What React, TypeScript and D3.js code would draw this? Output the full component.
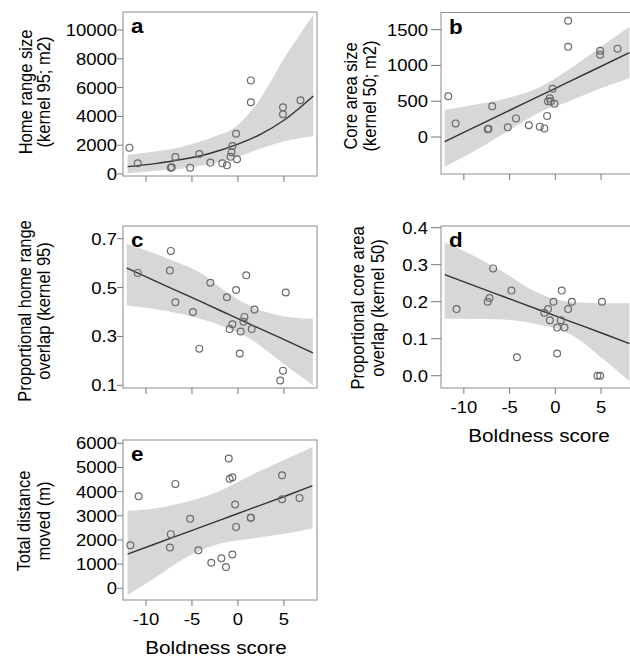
import * as d3 from "d3";
import React from "react";

// shared x axis
const xTicks = [-10, -5, 0, 5];
const xDomain: [number, number] = [-12.5, 8.6];

// a: home range size
const boldA = [-11.8, -10.9, -7.3, -7.2, -6.8, -5.2, -4.2, -3.0, -1.7, -1.2, -0.8, -0.7, -0.6, -0.2, -0.1, 1.4, 1.4, 4.9, 4.9, 6.8];
const homeRange = [1830, 740, 430, 470, 1180, 440, 1390, 790, 740, 600, 1200, 1510, 1940, 2800, 1020, 6500, 4980, 4630, 4150, 5120];
const fitXA = [-12, -9, -6, -3, 0, 2.5, 5, 8.2];
const fitA = [510, 720, 1020, 1440, 2070, 2770, 3730, 5420];
const loA = [60, 220, 380, 700, 1200, 1780, 2260, 2640];
const hiA = [1320, 1560, 1900, 2500, 3400, 5300, 8000, 11040];
const yTicksA = [0, 2000, 4000, 6000, 8000, 10000];

// b: core area size
const boldB = [-11.7, -10.9, -7.4, -7.3, -6.9, -5.2, -4.3, -2.9, -1.7, -1.2, -0.9, -0.8, -0.6, -0.5, -0.3, -0.1, 1.4, 1.4, 4.9, 4.9, 6.8];
const coreArea = [570, 190, 110, 115, 430, 135, 260, 165, 145, 120, 295, 500, 540, 500, 675, 465, 1625, 1260, 1205, 1150, 1235];
const fitXB = [-12.1, -9, -5.3, -1.6, 1.4, 4, 8.1];
const fitB = [-65, 126, 354, 581, 766, 926, 1178];
const loB = [-414, -205, 74, 354, 493, 633, 820];
const hiB = [377, 447, 540, 703, 936, 1169, 1540];
const yTicksB = [0, 500, 1000, 1500];

// c: proportional home range overlap
const boldC = [-10.9, -7.3, -7.4, -6.8, -4.9, -4.2, -3.0, -1.2, -0.9, -0.6, -0.2, 0.2, 0.3, 0.6, 0.7, 0.9, 1.5, 1.8, 4.6, 4.9, 5.2];
const overlapHR = [0.56, 0.65, 0.57, 0.44, 0.40, 0.25, 0.52, 0.46, 0.33, 0.35, 0.49, 0.23, 0.32, 0.36, 0.38, 0.55, 0.33, 0.41, 0.12, 0.16, 0.48];
const fitXC = [-12.1, -7.6, -3.9, -1.0, 1.6, 4.5, 8.15];
const fitC = [0.58, 0.503, 0.44, 0.39, 0.345, 0.296, 0.233];
const loC = [0.427, 0.403, 0.37, 0.331, 0.284, 0.202, 0.1];
const hiC = [0.679, 0.618, 0.556, 0.475, 0.42, 0.386, 0.372];
const yTicksC = [0.1, 0.3, 0.5, 0.7];

// d: proportional core area overlap
const boldD = [-10.8, -7.4, -7.2, -6.8, -4.8, -4.2, -1.2, -0.8, -0.6, -0.2, 0.2, 0.2, 0.6, 0.7, 1.0, 1.4, 1.8, 4.6, 4.9, 5.1];
const overlapCore = [0.18, 0.2, 0.21, 0.29, 0.23, 0.05, 0.17, 0.18, 0.15, 0.2, 0.06, 0.13, 0.15, 0.23, 0.13, 0.18, 0.2, 0.0, 0.0, 0.2];
const fitXD = [-12.1, -9.4, -5.7, -2.1, 1.6, 5.2, 8.1];
const fitD = [0.273, 0.248, 0.214, 0.181, 0.147, 0.114, 0.087];
const loD = [0.154, 0.154, 0.152, 0.14, 0.113, 0.046, -0.015];
const hiD = [0.361, 0.33, 0.28, 0.226, 0.199, 0.196, 0.196];
const yTicksD = [0, 0.1, 0.2, 0.3, 0.4];

// e: total distance moved
const boldE = [-11.7, -10.8, -7.3, -7.4, -6.8, -5.2, -4.3, -2.9, -1.8, -1.3, -1.0, -0.9, -0.6, -0.6, -0.3, -0.2, 1.4, 1.4, 4.8, 4.8, 6.7];
const distance = [1780, 3810, 2240, 1690, 4320, 2880, 1570, 1060, 1240, 880, 5370, 4530, 4590, 1400, 3470, 2540, 2920, 2920, 4680, 3680, 3740];
const fitXE = [-12, -9.1, -5.5, -1.8, 1.8, 5.4, 8.1];
const fitE = [1417, 1822, 2325, 2842, 3345, 3849, 4240];
const loE = [-277, 413, 1306, 1860, 2066, 2273, 2479];
const hiE = [3207, 3305, 3580, 4062, 4750, 5372, 5850];
const yTicksE = [0, 1000, 2000, 3000, 4000, 5000, 6000];

const SX = 1.12; // text is drawn a bit wide in the original
const FONT = "'Liberation Sans', Arial, sans-serif";

function Panel(props: any) {
  const { x0, x1, y0, y1, yDomain, yTicks, fmt, xs, ys, fx, fy, lo, hi, letter, title, titleX, titleY, right, xLabels } = props;
  const x = d3.scaleLinear().domain(xDomain).range([x0, x1]);
  const y = d3.scaleLinear().domain(yDomain).range([y1, y0]);
  const idx = d3.range(fx.length);
  const band = d3.area<number>().x((i) => x(fx[i])).y0((i) => y(lo[i])).y1((i) => y(hi[i])).curve(d3.curveMonotoneX)(idx);
  const line = d3.line<number>().x((i) => x(fx[i])).y((i) => y(fy[i])).curve(d3.curveMonotoneX)(idx);
  const tickLen = right ? 10 : 6;
  const labEnd = x0 - tickLen - (right ? 3 : 0);

  return (
    <g>
      <path d={band || ""} fill="#d7d7d7" />
      <path d={line || ""} fill="none" stroke="#333" strokeWidth={1.4} />
      {xs.map((v: number, i: number) => (
        <circle key={i} cx={x(v)} cy={y(ys[i])} r={3.4} fill="none" stroke="#6a6a6a" strokeWidth={1.2} />
      ))}
      <rect x={x0} y={y0} width={x1 - x0} height={y1 - y0} fill="none" stroke="#8c8c8c" strokeWidth={1} />
      {xTicks.map((t) => (
        <line key={t} x1={x(t)} x2={x(t)} y1={y1} y2={y1 + 6} stroke="#777" />
      ))}
      {yTicks.map((t: number) => (
        <g key={t}>
          <line x1={x0 - tickLen} x2={x0} y1={y(t)} y2={y(t)} stroke="#777" />
          <text transform={`translate(${labEnd},${y(t) + 6}) scale(${SX},1)`} textAnchor="end" fontSize={16.5} fill="#000">
            {fmt(t)}
          </text>
        </g>
      ))}
      {xLabels &&
        xTicks.map((t) => (
          <text key={t} transform={`translate(${x(t)},${y1 + 25}) scale(${SX},1)`} textAnchor="middle" fontSize={16.5} fill="#000">
            {t}
          </text>
        ))}
      {xLabels && (
        <text transform={`translate(${xLabels},${y1 + 54}) scale(${SX},1)`} textAnchor="middle" fontSize={18.5} fill="#000">
          Boldness score
        </text>
      )}
      <text transform={`translate(${x0 + 8},${y0 + 21}) scale(${SX},1)`} fontSize={20} fontWeight="bold" fill="#000">
        {letter}
      </text>
      {title.map((s: string, i: number) => (
        <text key={i} transform={`translate(${titleX[i]},${titleY}) scale(${SX},1) rotate(-90)`} textAnchor="middle" fontSize={16.5} fill="#000">
          {s}
        </text>
      ))}
    </g>
  );
}

export default function App() {
  const f0 = d3.format("d");
  const f1 = d3.format(".1f");
  const L = { x0: 123, x1: 317 };
  const R = { x0: 441, x1: 634, right: true };
  return (
    <svg width={630} height={659} style={{ position: "absolute", left: 0, top: 0, background: "#fff" }} fontFamily={FONT}>
      <Panel {...L} y0={12} y1={176} yDomain={[-139, 11250]} yTicks={yTicksA} fmt={f0} xs={boldA} ys={homeRange}
        fx={fitXA} fy={fitA} lo={loA} hi={hiA} letter="a" title={["Home range size", "(kernel 95; m2)"]} titleX={[32, 50]} titleY={92} />
      <Panel {...R} y0={12.5} y1={174} yDomain={[-517, 1740]} yTicks={yTicksB} fmt={f0} xs={boldB} ys={coreArea}
        fx={fitXB} fy={fitB} lo={loB} hi={hiB} letter="b" title={["Core area size", "(kernel 50; m2)"]} titleX={[357, 376]} titleY={96} />
      <Panel {...L} y0={226} y1={388} yDomain={[0.089, 0.752]} yTicks={yTicksC} fmt={f1} xs={boldC} ys={overlapHR}
        fx={fitXC} fy={fitC} lo={loC} hi={hiC} letter="c" title={["Proportional home range", "overlap (kernel 95)"]} titleX={[31, 50]} titleY={311} />
      <Panel {...R} y0={226} y1={388} yDomain={[-0.0332, 0.4046]} yTicks={yTicksD} fmt={f1} xs={boldD} ys={overlapCore}
        fx={fitXD} fy={fitD} lo={loD} hi={hiD} letter="d" title={["Proportional core area", "overlap (kernel 50)"]} titleX={[364, 384]} titleY={308}
        xLabels={539} />
      <Panel {...L} y0={440} y1={600} yDomain={[-484, 6136]} yTicks={yTicksE} fmt={f0} xs={boldE} ys={distance}
        fx={fitXE} fy={fitE} lo={loE} hi={hiE} letter="e" title={["Total distance", "moved (m)"]} titleX={[30, 49.5]} titleY={521}
        xLabels={216} />
    </svg>
  );
}
